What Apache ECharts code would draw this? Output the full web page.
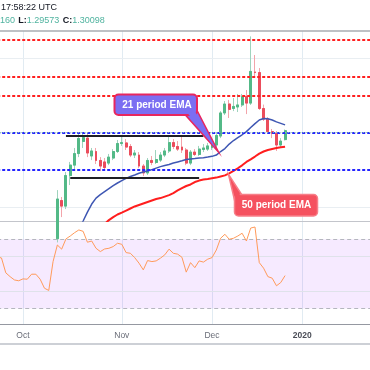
<!DOCTYPE html>
<html><head><meta charset="utf-8">
<script src="https://cdn.jsdelivr.net/npm/echarts@6/dist/echarts.min.js"></script>
<style>html,body{margin:0;padding:0;background:#fff}#c{width:370px;height:370px}</style>
</head><body><div id="c"></div>
<script>
const categories = [
'2019-09-23','2019-09-24','2019-09-25','2019-09-26','2019-09-27','2019-09-30',
'2019-10-01','2019-10-02','2019-10-03','2019-10-04','2019-10-07','2019-10-08','2019-10-09','2019-10-10','2019-10-11','2019-10-14','2019-10-15','2019-10-16','2019-10-17','2019-10-18','2019-10-21','2019-10-22','2019-10-23','2019-10-24','2019-10-25','2019-10-28','2019-10-29','2019-10-30','2019-10-31',
'2019-11-01','2019-11-04','2019-11-05','2019-11-06','2019-11-07','2019-11-08','2019-11-11','2019-11-12','2019-11-13','2019-11-14','2019-11-15','2019-11-18','2019-11-19','2019-11-20','2019-11-21','2019-11-22','2019-11-25','2019-11-26','2019-11-27','2019-11-28','2019-11-29',
'2019-12-02','2019-12-03','2019-12-04','2019-12-05','2019-12-06','2019-12-09','2019-12-10','2019-12-11','2019-12-12','2019-12-13','2019-12-16','2019-12-17','2019-12-18','2019-12-19','2019-12-20','2019-12-23','2019-12-24','2019-12-26','2019-12-27','2019-12-30','2019-12-31',
'2020-01-01','2020-01-02','2020-01-03','2020-01-06','2020-01-07','2020-01-08','2020-01-09','2020-01-10','2020-01-13','2020-01-14','2020-01-15','2020-01-16','2020-01-17','2020-01-20','2020-01-21','2020-01-22','2020-01-23'];

const opens = [1.2440,1.2470,1.2480,1.2320,1.2318,1.2290,1.2292,1.2220,1.2300,1.2350,1.2330,1.2290,1.2210,1.2215,1.2430,1.2635,1.2605,1.2769,1.2825,1.2887,1.2952,1.2970,1.2874,1.2898,1.2850,1.2842,1.2836,1.2863,1.2898,1.2941,1.2944,1.2925,1.2879,1.2879,1.2820,1.2783,1.2850,1.2839,1.2852,1.2879,1.2901,1.2946,1.2925,1.2922,1.2906,1.2836,1.2895,1.2882,1.2909,1.2911,1.2919,1.2933,1.2981,1.3105,1.3153,1.3129,1.3137,1.3148,1.3193,1.3158,1.3325,1.3322,1.3129,1.3072,1.3005,1.2995,1.2933,1.2962];
const closes = [1.2470,1.2480,1.2320,1.2318,1.2290,1.2292,1.2220,1.2300,1.2350,1.2330,1.2290,1.2210,1.2215,1.2430,1.2643,1.2605,1.2769,1.2825,1.2887,1.2968,1.2973,1.2890,1.2901,1.2850,1.2820,1.2812,1.2868,1.2898,1.2941,1.2946,1.2922,1.2879,1.2890,1.2820,1.2783,1.2850,1.2839,1.2855,1.2879,1.2901,1.2946,1.2925,1.2911,1.2906,1.2836,1.2895,1.2882,1.2911,1.2917,1.2928,1.2933,1.2984,1.3105,1.3153,1.3124,1.3140,1.3148,1.3193,1.3158,1.3328,1.3322,1.3129,1.3072,1.3005,1.2995,1.2933,1.2954,1.30098];
const lows = [1.2420,1.2420,1.2315,1.2290,1.2270,1.2270,1.2205,1.2200,1.2280,1.2300,1.2280,1.2195,1.2195,1.2200,1.2410,1.2546,1.2589,1.2718,1.2799,1.2868,1.2917,1.2868,1.2852,1.2831,1.2793,1.2799,1.2825,1.2852,1.2890,1.2928,1.2906,1.2868,1.2863,1.2809,1.2766,1.2772,1.2825,1.2831,1.2842,1.2868,1.2890,1.2911,1.2901,1.2890,1.2825,1.2825,1.2874,1.2874,1.2895,1.2901,1.2906,1.2922,1.2970,1.3094,1.3078,1.3115,1.3110,1.3137,1.3099,1.3148,1.3303,1.3121,1.3062,1.2997,1.2970,1.2901,1.2922,1.29573];
const highs = [1.2490,1.2500,1.2480,1.2350,1.2380,1.2320,1.2340,1.2340,1.2370,1.2380,1.2350,1.2300,1.2290,1.2440,1.2691,1.2654,1.2788,1.2842,1.2917,1.2992,1.2995,1.2992,1.2917,1.2917,1.2868,1.2863,1.2885,1.2911,1.2960,1.2981,1.2965,1.2938,1.2906,1.2895,1.2831,1.2863,1.2874,1.2906,1.2895,1.2917,1.2984,1.2965,1.2954,1.2976,1.2917,1.2906,1.2911,1.2928,1.2938,1.2944,1.2954,1.2997,1.3115,1.3169,1.3175,1.3185,1.3207,1.3207,1.3228,1.3516,1.3416,1.3346,1.3150,1.3083,1.3019,1.3008,1.2970,1.30160];

const ema21 = [null,null,null,null,null,null,null,null,null,null,null,null,null,null,null,null,null,null,null,
1.2482,1.2525,1.2573,1.2616,1.2648,1.2667,1.2683,1.2699,1.2715,1.2729,1.2742,1.2754,1.2764,1.2772,1.2781,1.2788,1.2793,1.2801,1.2809,1.2817,1.2823,1.2828,1.2836,1.2842,1.2848,1.2855,1.2858,1.2860,1.2863,1.2865,1.2868,1.2872,1.2879,1.2898,1.2914,1.2938,1.2957,1.2973,1.2988,1.3005,1.3027,1.3048,1.3067,1.3075,1.3074,1.3067,1.3057,1.3049,1.3041];
const ema50 = [null,null,null,null,null,null,null,null,null,null,null,null,null,null,null,null,null,null,null,null,null,null,null,null,
1.2476,1.2509,1.2530,1.2546,1.2560,1.2570,1.2581,1.2592,1.2603,1.2611,1.2619,1.2627,1.2635,1.2643,1.2648,1.2656,1.2664,1.2675,1.2689,1.2702,1.2713,1.2721,1.2734,1.2742,1.2748,1.2751,1.2755,1.2758,1.2764,1.2770,1.2781,1.2794,1.2808,1.2824,1.2842,1.2856,1.2871,1.2887,1.2898,1.2906,1.2912,1.2917,1.2921,1.2924];
const rsi = [59.8,59.2,50.6,48.4,46.5,46.0,47.1,46.9,49.8,49.8,46.9,41.7,40.4,57.1,66.7,64.3,70.2,71.9,73.8,75.4,74.6,68.3,69.0,64.8,62.9,64.4,64.8,65.8,67.7,67.1,62.3,61.9,59.4,56.2,52.3,57.7,57.1,57.5,59.1,61.0,64.3,61.9,61.4,59.6,51.0,56.5,53.6,57.5,56.8,58.5,59.4,63.8,70.6,72.9,70.0,70.6,71.9,73.5,69.0,76.5,77.1,56.5,53.3,48.4,47.5,43.1,45.0,49.0];

const redLevels = [1.3481, 1.3347, 1.3192];
const blueLevels = [1.2987, 1.2768, 1.2549];
const priceGridLevels = [1.26, 1.30, 1.34];
const rangeTop = { from: '2019-10-15', to: '2019-11-28', price: 1.2981 };
const rangeBottom = { from: '2019-10-16', to: '2019-11-27', price: 1.2757 };
const rsiBand = [30, 70];
const rsiGridLevels = [40, 60];
const tickDates = ['2019-10-01', '2019-11-01', '2019-12-02', '2020-01-01'];
const tickLabels = ['Oct', 'Nov', 'Dec', '2020'];
const headerTime = '17:58:22 UTC';
const headerValues = { h: '160', l: '1.29573', c: '1.30098' };

const FONT = '"Liberation Sans", Arial, sans-serif';
const upColor = '#53b987', downColor = '#eb4d5c', upWick = '#9fd3bd', downWick = '#f3a4aa';
const ohlcFull = opens.map((o, i) => [o, closes[i], lows[i], highs[i]]);
const ohlcBody = opens.map((o, i) => [o, closes[i], Math.min(o, closes[i]), Math.max(o, closes[i])]);
const lastClose = closes[closes.length - 1];

const chart = echarts.init(document.getElementById('c'), null, { renderer: 'canvas' });
const dashStyle = (color) => ({ color: color, width: 2, type: [3, 2] });
const isTick = (i, v) => tickDates.indexOf(v) >= 0;

const option = {
  animation: false,
  backgroundColor: '#ffffff',
  grid: [
    { left: -2.8, right: -1, top: 31, height: 190, containLabel: false, outerBoundsMode: 'none' },
    { left: -2.8, right: -1, top: 222, height: 102, containLabel: false, outerBoundsMode: 'none' }
  ],
  xAxis: [
    { type: 'category', gridIndex: 0, data: categories, boundaryGap: false,
      axisLine: { show: true, lineStyle: { color: '#c3c5cb', width: 1 } },
      axisTick: { show: false }, axisLabel: { show: false },
      splitLine: { show: true, interval: isTick, lineStyle: { color: '#e1ebf2', width: 1 } } },
    { type: 'category', gridIndex: 1, data: categories, boundaryGap: false,
      axisLine: { show: true, lineStyle: { color: '#9598a1', width: 1 } },
      axisTick: { show: false },
      axisLabel: { show: true, interval: isTick, margin: 7, hideOverlap: false,
        color: '#6a6d78', fontSize: 8.5, fontFamily: FONT,
        formatter: (v) => { const t = tickLabels[tickDates.indexOf(v)] || ''; return /^\d+$/.test(t) ? '{y|' + t + '}' : t; },
        rich: { y: { fontWeight: 'bold', color: '#4a4d57', fontSize: 8.5, fontFamily: FONT } } },
      splitLine: { show: true, interval: isTick, lineStyle: { color: '#e1ebf2', width: 1 } } }
  ],
  yAxis: [
    { type: 'value', gridIndex: 0, min: 1.2525, max: 1.3545, show: false },
    { type: 'value', gridIndex: 1, min: 21, max: 80, show: false }
  ],
  series: [
    { type: 'candlestick', name: 'wick', xAxisIndex: 0, yAxisIndex: 0, data: ohlcFull, barWidth: 2.4, clip: true,
      itemStyle: { color: 'rgba(0,0,0,0)', color0: 'rgba(0,0,0,0)', borderColor: upWick, borderColor0: downWick, borderColorDoji: downWick, borderWidth: 1 },
      markLine: { silent: true, symbol: 'none', z: 1, label: { show: false },
        lineStyle: { color: '#e9eef2', width: 1, type: 'solid' },
        data: priceGridLevels.map(v => ({ yAxis: v })) } },
    { type: 'candlestick', name: 'body', xAxisIndex: 0, yAxisIndex: 0, data: ohlcBody, barWidth: 2.4, clip: true,
      itemStyle: { color: upColor, color0: downColor, borderColor: upColor, borderColor0: downColor, borderColorDoji: downColor, borderWidth: 1 },
      markLine: { silent: true, symbol: 'none', label: { show: false },
        data: [
          ...redLevels.map(v => ({ yAxis: v, lineStyle: dashStyle('#ff2020') })),
          ...blueLevels.map(v => ({ yAxis: v, lineStyle: dashStyle('#2424ff') })),
          { yAxis: lastClose, lineStyle: { color: '#8fd4a4', width: 1, type: [1, 2] } },
          [ { coord: [rangeTop.from, rangeTop.price], lineStyle: { color: '#1e1f24', width: 2, type: 'solid' } }, { coord: [rangeTop.to, rangeTop.price] } ],
          [ { coord: [rangeBottom.from, rangeBottom.price], lineStyle: { color: '#1e1f24', width: 2, type: 'solid' } }, { coord: [rangeBottom.to, rangeBottom.price] } ]
        ] } },
    { type: 'line', name: 'EMA 21', xAxisIndex: 0, yAxisIndex: 0, data: ema21, symbol: 'none', showSymbol: false, clip: true, z: 3,
      lineStyle: { color: '#3f57b3', width: 1.5 } },
    { type: 'line', name: 'EMA 50', xAxisIndex: 0, yAxisIndex: 0, data: ema50, symbol: 'none', showSymbol: false, clip: true, z: 3,
      lineStyle: { color: '#ff1e1e', width: 2 } },
    { type: 'line', name: 'RSI', xAxisIndex: 1, yAxisIndex: 1, data: rsi, symbol: 'none', showSymbol: false, clip: true, z: 4,
      lineStyle: { color: '#ff9a5a', width: 1 },
      markArea: { silent: true, itemStyle: { color: 'rgba(153,21,255,0.09)' }, data: [[{ yAxis: rsiBand[0] }, { yAxis: rsiBand[1] }]] },
      markLine: { silent: true, symbol: 'none', label: { show: false }, z: 3,
        data: [
          ...rsiGridLevels.map(v => ({ yAxis: v, lineStyle: { color: '#dfe2ea', width: 1, type: 'solid' } })),
          ...rsiBand.map(v => ({ yAxis: v, lineStyle: { color: '#b4b6be', width: 1, type: [4, 3] } }))
        ] } }
  ],
  graphic: [
    { type: 'line', z: 100, shape: { x1: 0, y1: 31, x2: 370, y2: 31 }, style: { stroke: '#a9abb1', lineWidth: 1.5 } },
    { type: 'line', z: 100, shape: { x1: 0, y1: 344, x2: 370, y2: 344 }, style: { stroke: '#cdd0d6', lineWidth: 2 } },
    { type: 'text', z: 100, x: 1, y: 8, style: { text: headerTime, fill: '#131722', font: '9px ' + FONT, verticalAlign: 'middle', align: 'left' } },
    { type: 'text', z: 100, x: 0, y: 21, style: {
        text: '{t|' + headerValues.h + '} {k|L:}{t|' + headerValues.l + '} {k|C:}{t|' + headerValues.c + '}',
        verticalAlign: 'middle', align: 'left',
        rich: { t: { fill: '#4fb39f', color: '#4fb39f', fontSize: 9, fontFamily: FONT },
                k: { fill: '#131722', color: '#131722', fontSize: 9, fontFamily: FONT, fontWeight: 'bold' } } } },
    // 21 period EMA callout
    { type: 'polygon', z: 100, shape: { points: [[185, 114.5], [197, 110.5], [218.5, 152]] }, style: { fill: '#7b6ef2', stroke: '#e8265f', lineWidth: 1.5 } },
    { type: 'rect', z: 101, shape: { x: 114.5, y: 94.5, width: 82.5, height: 20.5, r: 4 }, style: { fill: '#7b6ef2', stroke: '#e8265f', lineWidth: 2 } },
    { type: 'polygon', z: 102, shape: { points: [[187.5, 113], [195.6, 112.5], [215.5, 148.5]] }, style: { fill: '#7b6ef2' } },
    { type: 'text', z: 103, x: 157, y: 105.3, style: { text: '21 period EMA', fill: '#ffffff', font: 'bold 10px ' + FONT, align: 'center', verticalAlign: 'middle' } },
    // 50 period EMA callout
    { type: 'polygon', z: 100, shape: { points: [[228.5, 174.5], [242, 195], [234.5, 200]] }, style: { fill: '#f5515f', stroke: '#f77f89', lineWidth: 1.5 } },
    { type: 'rect', z: 101, shape: { x: 234.5, y: 194.5, width: 83, height: 21.5, r: 4 }, style: { fill: '#f5515f', stroke: '#f77f89', lineWidth: 1.5 } },
    { type: 'polygon', z: 102, shape: { points: [[230.5, 178.5], [240.5, 196], [235.6, 198.5]] }, style: { fill: '#f5515f' } },
    { type: 'text', z: 103, x: 276.5, y: 205.5, style: { text: '50 period EMA', fill: '#ffffff', font: 'bold 10px ' + FONT, align: 'center', verticalAlign: 'middle' } }
  ]
};
chart.setOption(option);
</script>
</body></html>
